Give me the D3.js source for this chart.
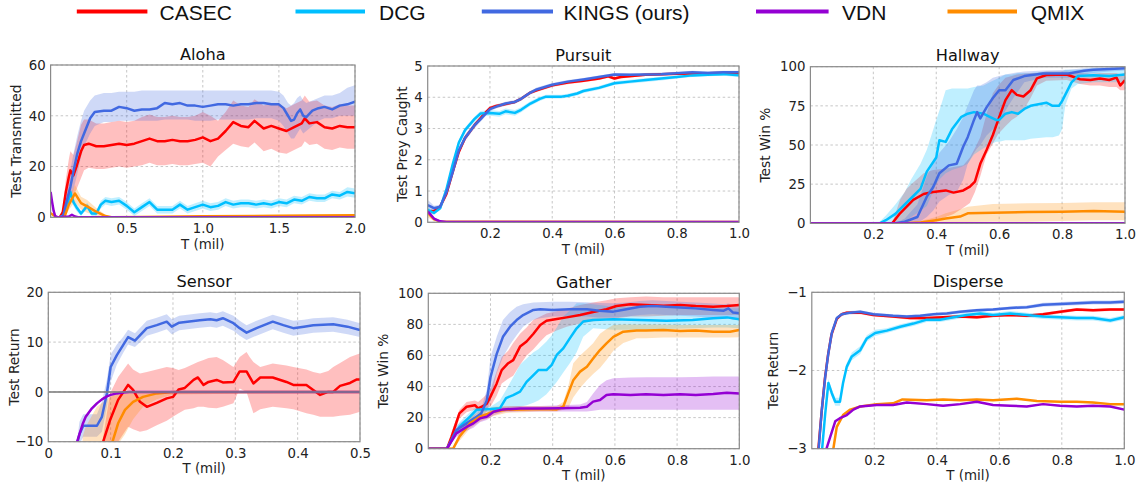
<!DOCTYPE html>
<html>
<head>
<meta charset="utf-8">
<script src="https://cdn.jsdelivr.net/npm/d3@7"></script>
<style>
  body { margin: 0; background: #fff; }
  svg text { font-family: "DejaVu Sans", sans-serif; }
  .legend text { font-family: "Liberation Sans", Arial, sans-serif; }
</style>
</head>
<body>
<svg id="fig" width="1141" height="486"></svg>
<script>
// ---- data: each point is [x, mean, spread] or [x, mean, lo, hi] ----
const methods = ['CASEC', 'DCG', 'KINGS (ours)', 'VDN', 'QMIX'];
const methodColors = ['#ff0000', '#00bfff', '#4169e1', '#9400d3', '#ff8c00'];

const alohaCasec = [[0.06,0,0],[0.08,2,1.5],[0.1,10,5],[0.12,16,7],[0.13,18.5,7.5],[0.15,16.5,8],[0.17,20,9],[0.2,26,10.5],[0.22,28.5,10],[0.25,29,9.5],[0.3,28,9],[0.35,28,9],[0.4,28.5,9],[0.45,29,9],[0.5,28.5,9],[0.55,29,9],[0.6,30,9.5],[0.65,31,9.5],[0.7,30,9.5],[0.75,30,9.5],[0.8,30.5,9.5],[0.85,30,9.5],[0.9,30,9.5],[0.95,30.5,9.5],[1.0,31.5,10],[1.05,30,10],[1.1,31,7],[1.15,34,7.5],[1.2,37.5,8.5],[1.25,36,8],[1.3,35.5,8],[1.34,38,8.5],[1.4,35,9],[1.45,36,9],[1.5,35,9.5],[1.55,34,9],[1.6,35.5,9],[1.65,37,9],[1.67,39,9],[1.7,37,8.5],[1.75,37.5,8.5],[1.8,35.5,8.5],[1.85,35,8.5],[1.9,36,8.5],[1.95,35.5,8.5],[2.0,35.5,8.5]];
const alohaDcg = [[0.06,0,0],[0.09,1,0.5],[0.11,5,1.5],[0.13,10,2],[0.15,6,1.5],[0.17,4,1.5],[0.2,1.5,1],[0.22,3,1],[0.24,4.5,1.2],[0.27,1.5,1],[0.3,1.5,1],[0.33,5,1.5],[0.36,6.5,1.5],[0.4,6,1.5],[0.45,6.5,1.5],[0.5,4.5,1.5],[0.55,2,1.5],[0.6,4,1.5],[0.65,6,1.5],[0.7,3,1.5],[0.75,3,1.5],[0.8,3,1.5],[0.85,5,1.5],[0.9,3,1.5],[0.95,4,1.5],[1.0,5,1.5],[1.05,4,1.5],[1.1,4.5,1.5],[1.15,6,1.5],[1.2,5,1.5],[1.25,5.5,1.5],[1.3,5.5,1.5],[1.35,5,1.5],[1.4,5.5,1.5],[1.45,5,1.5],[1.5,6,1.5],[1.55,5.5,1.5],[1.6,7,1.5],[1.65,6.5,1.5],[1.7,8,1.5],[1.75,7.5,1.5],[1.8,7.5,1.5],[1.85,9,1.5],[1.9,8.5,1.5],[1.95,10,1.8],[2.0,9.5,1.8]];
const alohaKings = [[0.08,0,0,0],[0.1,5,2,8],[0.13,12,7,18.5],[0.15,18,11,25],[0.175,25,17,32],[0.2,30,24,38],[0.22,33,28,42],[0.26,39,33,46],[0.29,41.5,36,48],[0.35,42,37.5,49],[0.4,42,37.5,49],[0.45,43.5,38,49.5],[0.5,43,38,49.5],[0.55,42,38,49.5],[0.6,42.5,38,50],[0.65,42.5,38,50],[0.7,43,38,50],[0.75,45,38.5,50],[0.8,44.5,38.5,50],[0.85,45,38.5,50],[0.9,44,38.5,50],[0.95,44,38,50],[1.0,43.5,38,50],[1.05,44,38,50],[1.1,44.5,38.5,50],[1.15,44.5,38.5,50],[1.2,44,38.5,50],[1.25,44.5,38.5,50],[1.3,44.5,38.5,50],[1.35,45,39,50],[1.4,45,39,50],[1.45,44.5,39,50],[1.5,44.5,38,49.5],[1.53,43,36,48],[1.56,40,33,45],[1.58,38,31,44],[1.6,38.5,31,45],[1.62,41,33,47],[1.64,42.5,35,48],[1.66,40,33,46],[1.68,39.5,34,45],[1.72,42,36,46],[1.76,43,38,47],[1.8,43.5,39,48],[1.85,42.5,39,48],[1.9,44,40,49],[1.95,44.5,40,51],[2.0,45.5,40,52]];
const alohaVdn = [[0,10,0.5],[0.01,6,0.5],[0.02,2.5,0.3],[0.03,0.5,0.2],[0.05,0,0],[0.12,0.3,0],[0.14,1,0.2],[0.16,0.3,0],[0.18,0,0],[2.0,0,0]];
const alohaQmix = [[0,1.6,0.5],[0.02,0.8,0.5],[0.04,0,0.2],[0.09,0,0.3],[0.12,5,2],[0.16,9.4,3.3],[0.2,5.6,2.5],[0.24,4.3,2.5],[0.3,2.2,1.5],[0.36,0.5,0.5],[0.4,0,0.2],[0.6,0.1,0.1],[1.0,0.4,0.2],[1.5,0.6,0.3],[2.0,0.8,0.3]];

const pursuitCasec = [[0.01,0.35,0.08],[0.02,0.35,0.06],[0.04,0.5,0.05],[0.06,0.9,0.06],[0.08,1.6,0.08],[0.1,2.25,0.08],[0.12,2.7,0.08],[0.15,3.1,0.07],[0.18,3.45,0.06],[0.2,3.65,0.06],[0.22,3.72,0.06],[0.25,3.78,0.05],[0.28,3.85,0.05],[0.3,3.95,0.05],[0.33,4.15,0.05],[0.35,4.22,0.05],[0.4,4.38,0.05],[0.45,4.47,0.05],[0.5,4.53,0.05],[0.55,4.6,0.05],[0.58,4.67,0.05],[0.6,4.6,0.05],[0.62,4.65,0.05],[0.7,4.72,0.04],[0.8,4.75,0.04],[0.9,4.77,0.04],[0.95,4.78,0.04],[1.0,4.75,0.04]];
const pursuitDcg = [[0,0.4,0.1],[0.02,0.3,0.06],[0.04,0.45,0.06],[0.06,1.05,0.08],[0.08,1.85,0.08],[0.1,2.55,0.08],[0.12,2.95,0.08],[0.15,3.3,0.08],[0.17,3.48,0.08],[0.2,3.5,0.09],[0.23,3.47,0.09],[0.25,3.55,0.09],[0.28,3.5,0.09],[0.3,3.6,0.08],[0.33,3.8,0.07],[0.36,3.95,0.07],[0.38,4.02,0.06],[0.4,4.02,0.06],[0.43,4.02,0.06],[0.45,4.05,0.06],[0.48,4.12,0.06],[0.5,4.2,0.06],[0.55,4.3,0.06],[0.6,4.45,0.06],[0.65,4.5,0.06],[0.7,4.55,0.06],[0.75,4.6,0.06],[0.8,4.65,0.05],[0.85,4.7,0.05],[0.9,4.72,0.05],[0.95,4.74,0.05],[1.0,4.7,0.05]];
const pursuitKings = [[0,0.55,0.17],[0.02,0.45,0.08],[0.04,0.5,0.06],[0.06,0.95,0.08],[0.08,1.6,0.1],[0.1,2.3,0.1],[0.12,2.7,0.1],[0.15,3.1,0.1],[0.17,3.3,0.08],[0.2,3.62,0.07],[0.22,3.7,0.06],[0.25,3.8,0.06],[0.28,3.85,0.06],[0.3,3.95,0.06],[0.33,4.15,0.06],[0.35,4.25,0.06],[0.4,4.4,0.06],[0.45,4.5,0.05],[0.5,4.57,0.05],[0.55,4.65,0.05],[0.6,4.73,0.05],[0.65,4.72,0.05],[0.7,4.73,0.05],[0.75,4.74,0.05],[0.8,4.77,0.05],[0.85,4.8,0.05],[0.9,4.78,0.05],[0.95,4.8,0.05],[1.0,4.8,0.05]];
const pursuitVdn = [[0,0.35,0.05],[0.02,0.12,0.03],[0.04,0.03,0.01],[0.06,0.01,0],[1.0,0.01,0]];
const pursuitQmix = [[0,0.3,0.15],[0.02,0.1,0.06],[0.04,0.02,0.01],[1.0,0.01,0]];

const hallwayCasec = [[0,0,0,0],[0.26,0,0,0],[0.285,6.4,0,15],[0.306,10.6,0,22],[0.327,15,0,26],[0.36,18.7,0.5,32],[0.39,20,1,34],[0.43,21,4,35],[0.455,19.6,6,36],[0.486,21,10,37],[0.507,23.4,13,42],[0.523,26.6,20,48],[0.54,38,30,55],[0.56,46.8,44,70],[0.58,56.4,51,83],[0.597,66,57,88],[0.62,78.7,62,93],[0.64,85,66,94],[0.656,82,68,95],[0.677,81,72,95.5],[0.7,85,80,96],[0.72,92.5,88,96],[0.75,94.7,91,97],[0.815,95,91.5,97],[0.857,92,89,96],[0.89,91.5,88,95.5],[0.92,92.5,88,96],[0.95,91.5,87,96],[0.973,93,87,96],[0.985,88,85,95],[1.0,91.5,85,96]];
const hallwayDcg = [[0,0,0,0],[0.22,0,0,1],[0.24,2,0,5],[0.27,6,0,12],[0.3,12,1,20],[0.32,16,4,28],[0.35,22,8,38],[0.37,33,11,47],[0.4,42,25,66],[0.41,53,28,72],[0.43,52,32,85],[0.45,60,34,86],[0.48,68,36,86],[0.5,70,38,86],[0.52,71,44,87],[0.55,70,48,88],[0.57,68,50,90],[0.59,66,52,92],[0.6,66,52,93],[0.62,70,53,95],[0.64,71,53,95],[0.66,70,53,96],[0.68,73,53,96],[0.7,75,54,96],[0.75,77,55,97],[0.77,75,55,97],[0.79,75,56,97],[0.8,78,60,97],[0.81,82,75,98],[0.83,90,86,98],[0.85,94,89,98],[0.9,94.5,90,99],[0.95,94,90,99],[1.0,95,90,99]];
const hallwayKings = [[0,0,0,0],[0.27,0,0,0],[0.3,1,0,3],[0.34,4,0,12],[0.37,17,4,30],[0.39,23,8,38],[0.41,32,14,45],[0.44,37,18,52],[0.465,38,20,60],[0.486,49,28,68],[0.5,55,38,75],[0.52,66,45,85],[0.53,71,48,88],[0.54,67,50,88],[0.56,74,56,90],[0.58,80,60,93],[0.6,85,64,94],[0.62,85,72,95],[0.645,91.5,80,96],[0.68,94,90,97],[0.74,95.7,93,97.5],[0.82,95.7,93,98],[0.87,97.4,95,99],[0.9,98,96,99.5],[0.95,98.5,97,100],[1.0,99,97.5,100]];
const hallwayVdn = [[0,0,0],[1.0,0,0]];
const hallwayQmix = [[0,0,0,0],[0.3,0,0,0],[0.35,0.5,0,1.5],[0.4,2,0,4],[0.43,3,0,6.4],[0.476,4.3,0.5,9],[0.5,6.4,0.8,10.6],[0.58,6.8,1,12.3],[0.69,7.2,1,12.8],[0.8,7.4,1.5,13],[0.9,7.9,2,13.4],[1.0,7.4,2,13.4]];

const sensorCasec = [[0.088,-10,-11,-9],[0.099,-5.7,-10.5,-0.3],[0.112,-1.6,-10,3],[0.128,1.4,-7,5.7],[0.136,0.4,-7.5,4.5],[0.147,-2,-8,3.7],[0.158,-3,-7.7,4],[0.174,-2.2,-6.7,4.5],[0.19,-1.3,-5.8,5],[0.2,-1,-5,4.8],[0.209,0.5,-4.3,4.4],[0.219,0.8,-3.6,4.8],[0.233,2.4,-3.3,5.6],[0.24,2.9,-3,6],[0.249,1.4,-3,6.4],[0.257,2,-3.2,6.8],[0.27,2.4,-3.3,7],[0.28,1.9,-3,6.4],[0.297,2,-2.3,5],[0.307,4.1,0.7,7],[0.318,4.1,0,8],[0.323,3,-2,7],[0.329,1.7,-4.3,6],[0.34,2.9,-3.5,5],[0.36,2.9,-3,5.7],[0.382,2,-3.3,5.3],[0.393,1.4,-3.5,5],[0.414,1.4,-4.3,4.5],[0.425,0.4,-4.6,4],[0.436,-0.6,-5,3.7],[0.449,0,-5,4.2],[0.457,0,-5,5],[0.468,1.2,-4.8,5.8],[0.484,1.8,-4.6,7],[0.495,2.5,-4.2,7.5],[0.5,2.5,-4,7.7]];
const sensorKings = [[0.046,-10.5,-11,-10],[0.05,-8.5,-10.5,-6],[0.056,-6.8,-9,-4.5],[0.078,-6.8,-9,-4.5],[0.086,-5,-8,-2],[0.094,-0.3,-3,2.5],[0.1,5,2,7.5],[0.11,7.4,5.5,9.5],[0.12,9.4,7.8,11],[0.128,11,9.5,12.5],[0.139,10.3,9,11.8],[0.158,12.8,11.3,14.3],[0.174,13.4,11.9,14.9],[0.19,14.1,12.6,15.6],[0.198,13.1,11.6,14.6],[0.21,13.9,12.4,15.3],[0.243,14.4,12.9,15.8],[0.26,14.6,13.1,16],[0.27,14.4,12.9,15.8],[0.28,14.8,13.3,16.2],[0.297,13.8,12.3,15.3],[0.307,12.8,11.3,14.3],[0.318,11.9,10.4,13.4],[0.334,12.8,11.3,14.3],[0.36,14.1,12.6,15.5],[0.377,13.4,11.9,14.9],[0.393,12.8,11.3,14.3],[0.41,13.1,11.6,14.5],[0.425,13.4,11.9,14.8],[0.457,13.6,12.1,15],[0.48,13.1,11.6,14.5],[0.5,12.4,11,13.8]];
const sensorVdn = [[0.045,-10.5,0.3],[0.05,-8.5,0.3],[0.055,-6.5,0.3],[0.06,-5,0.3],[0.07,-3.3,0.2],[0.078,-2.3,0.2],[0.086,-1.5,0.1],[0.094,-0.9,0.1],[0.1,-0.6,0.1],[0.11,-0.3,0],[0.12,-0.1,0],[0.13,0,0],[0.5,0,0]];
const sensorQmix = [[0.055,-12,-12,-9],[0.06,-12,-12,-7],[0.078,-12,-12,-3],[0.099,-11,-12,-1],[0.103,-10,-11.5,-0.8],[0.112,-6.3,-10.5,-0.5],[0.123,-3.6,-8.5,-0.3],[0.136,-2,-5.5,-0.1],[0.152,-1,-3,0],[0.174,-0.3,-1.5,0],[0.2,0,-0.5,0.1],[0.5,0,-0.1,0.1]];

const gatherCasec = [[0,0,0,0],[0.06,0,0,1],[0.075,7.7,4,11],[0.1,22.7,19.5,25],[0.123,27,23.5,30],[0.15,28,25,31],[0.16,26,24,30],[0.177,27.5,25,33],[0.188,29,26,35],[0.2,33.5,27,38],[0.22,42,34,50],[0.236,50.6,42,59],[0.257,55,45,63],[0.273,57,47,68],[0.295,65.7,54,74],[0.316,69,60,78],[0.338,74,64,83],[0.36,79.6,69,85],[0.38,82.4,73,87],[0.413,83.5,76,88.5],[0.445,84.5,78.5,90],[0.488,86,80.5,92.5],[0.53,88,82,94],[0.573,89.7,83,95.5],[0.605,91.8,84,96.8],[0.65,93,85,97.5],[0.7,92.5,85,98],[0.756,92,85.5,97.5],[0.81,92.5,86,97.5],[0.86,91.8,86,97.5],[0.916,91.4,86,97.4],[0.96,91.8,86,97.4],[1.0,92.5,86,97.4]];
const gatherDcg = [[0,0,0,0],[0.06,0,0,1],[0.1,14,11,17],[0.134,20.6,17.5,23.5],[0.155,25,22.5,27],[0.2,25.5,24,27],[0.23,26,24.5,31],[0.25,32.6,26,37.8],[0.273,34.5,26.5,46],[0.295,36.7,27,54],[0.316,43,28,58],[0.338,47.4,29.5,62],[0.354,50.6,31,64],[0.38,50.6,35,69],[0.397,54,39,73],[0.413,60.3,43,78],[0.434,64.6,49,85],[0.455,71,55,89],[0.477,77.5,62,93.6],[0.498,81.8,72,93.6],[0.53,82.8,77.5,93],[0.595,83.3,76.5,91.4],[0.68,82.8,76.5,91],[0.766,82.4,77,90.5],[0.85,82.8,77.5,90.3],[0.916,84,78,90.3],[0.96,84.5,78,90.3],[1.0,83.3,77.5,90.3]];
const gatherKings = [[0,0,0,0],[0.06,0,0,1],[0.09,12,9,15],[0.123,16.3,13,19.5],[0.155,20.6,17.5,24],[0.17,22.7,20,25.5],[0.188,31,24,38],[0.2,46,31,59],[0.22,61,48.5,72],[0.24,72,59,82.8],[0.263,78.5,67,88],[0.284,82.8,73,91.4],[0.305,86,78.5,93],[0.338,89.3,83,94],[0.36,89.7,84,94.2],[0.4,89.3,85,94.6],[0.455,89.7,85,94.5],[0.51,89.7,85,94.3],[0.55,88.8,84.5,93.8],[0.595,88.2,84.5,93.6],[0.637,89.7,85,94],[0.68,91.4,86,95],[0.72,91.8,86.5,95.5],[0.765,91.4,86,95],[0.81,90.8,85.5,94.5],[0.86,90.3,85,94],[0.916,89.3,84,93.5],[0.95,88.8,83.5,93],[0.965,90.3,84,93.5],[0.98,87.6,83,92.5],[1.0,87.1,82.8,92.5]];
const gatherVdn = [[0,0,0,0],[0.06,0,0,1],[0.09,9.9,7.5,12],[0.123,14,11.5,16.5],[0.145,16.3,13.5,19],[0.166,19.5,17,22],[0.188,20.6,18.5,23],[0.21,23.8,21.5,26],[0.24,25.3,23.5,27],[0.295,25.8,24,27.5],[0.36,25.8,24,27.5],[0.423,26,24,28],[0.488,26.4,24,28.5],[0.51,27,24,30],[0.53,30.3,24.5,35.6],[0.552,31.3,25,41],[0.573,34.5,25,44],[0.595,35,25,45.3],[0.65,34.5,25,45.8],[0.7,35,25,46],[0.756,34.5,25,46],[0.81,35,25,46],[0.86,34.5,25,46.2],[0.916,35.2,25,46.4],[0.96,36,25,46.4],[1.0,35.6,25,46.4]];
const gatherQmix = [[0,0,0,0],[0.08,0,0,1],[0.1,7.7,5,11],[0.134,16.3,13,20],[0.166,20.6,17.5,24],[0.21,23.8,21,27],[0.25,25,23,27.5],[0.305,25.3,23.5,27.5],[0.36,25.5,24,27.5],[0.413,25.3,24,27.5],[0.434,27,25,30],[0.45,35.6,26,40],[0.466,44,33,55],[0.488,49.6,39,60],[0.51,52.8,44,64],[0.53,58,48,67.8],[0.552,63.5,52,74],[0.573,67.8,57,77],[0.595,72,63,79.6],[0.627,75.3,68,80],[0.67,76,71,80],[0.7,76,71,80],[0.756,76.4,71.5,80],[0.81,75.8,71.5,79.6],[0.86,76,71.5,79.6],[0.916,75.3,71.5,79.6],[0.97,75.3,71.5,79.6],[1.0,76.4,71.7,79.6]];

const disperseCasec = [[0.02,-3.05,0.02],[0.031,-2.55,0.03],[0.042,-2.1,0.03],[0.052,-1.8,0.03],[0.063,-1.54,0.03],[0.08,-1.34,0.02],[0.096,-1.28,0.02],[0.112,-1.26,0.02],[0.155,-1.26,0.02],[0.197,-1.29,0.02],[0.26,-1.31,0.02],[0.315,-1.33,0.02],[0.368,-1.33,0.02],[0.42,-1.32,0.02],[0.475,-1.31,0.02],[0.528,-1.32,0.02],[0.58,-1.3,0.02],[0.635,-1.29,0.02],[0.688,-1.3,0.02],[0.74,-1.28,0.02],[0.795,-1.25,0.02],[0.848,-1.22,0.02],[0.9,-1.23,0.02],[0.955,-1.22,0.02],[1.0,-1.22,0.02]];
const disperseDcg = [[0.032,-3.05,0.03],[0.043,-2.55,0.05],[0.053,-2.16,0.05],[0.064,-2.29,0.05],[0.075,-2.4,0.05],[0.09,-2.4,0.05],[0.1,-2.16,0.05],[0.112,-1.95,0.05],[0.128,-1.82,0.05],[0.155,-1.74,0.05],[0.176,-1.59,0.04],[0.203,-1.52,0.04],[0.24,-1.49,0.03],[0.283,-1.44,0.03],[0.325,-1.4,0.03],[0.368,-1.35,0.03],[0.41,-1.35,0.03],[0.453,-1.32,0.03],[0.496,-1.29,0.03],[0.539,-1.27,0.03],[0.58,-1.29,0.03],[0.635,-1.27,0.03],[0.688,-1.29,0.03],[0.74,-1.31,0.03],[0.795,-1.32,0.03],[0.848,-1.33,0.03],[0.9,-1.33,0.03],[0.955,-1.36,0.03],[1.0,-1.32,0.03]];
const disperseKings = [[0.021,-3.05,0.02],[0.032,-2.5,0.03],[0.043,-2.08,0.03],[0.053,-1.78,0.03],[0.064,-1.52,0.03],[0.08,-1.33,0.02],[0.096,-1.28,0.02],[0.123,-1.26,0.02],[0.155,-1.25,0.02],[0.197,-1.28,0.02],[0.26,-1.3,0.02],[0.304,-1.31,0.02],[0.347,-1.3,0.02],[0.39,-1.28,0.02],[0.432,-1.27,0.02],[0.475,-1.25,0.02],[0.528,-1.23,0.02],[0.58,-1.22,0.02],[0.635,-1.2,0.02],[0.688,-1.19,0.02],[0.74,-1.16,0.025],[0.795,-1.15,0.025],[0.848,-1.14,0.025],[0.9,-1.13,0.025],[0.955,-1.13,0.025],[1.0,-1.12,0.025]];
const disperseVdn = [[0.043,-3.05,0.01],[0.059,-2.85,0.01],[0.075,-2.65,0.01],[0.09,-2.61,0.01],[0.112,-2.57,0.01],[0.133,-2.5,0.01],[0.155,-2.46,0.01],[0.208,-2.44,0.01],[0.26,-2.44,0.01],[0.304,-2.41,0.01],[0.368,-2.43,0.01],[0.42,-2.45,0.01],[0.475,-2.43,0.01],[0.528,-2.4,0.01],[0.58,-2.44,0.01],[0.635,-2.45,0.01],[0.688,-2.46,0.01],[0.74,-2.43,0.01],[0.795,-2.45,0.01],[0.848,-2.46,0.01],[0.9,-2.45,0.01],[0.955,-2.46,0.01],[1.0,-2.5,0.01]];
const disperseQmix = [[0.067,-3.05,0.01],[0.08,-2.72,0.01],[0.1,-2.57,0.01],[0.123,-2.5,0.01],[0.155,-2.46,0.01],[0.208,-2.43,0.01],[0.26,-2.42,0.01],[0.29,-2.37,0.01],[0.368,-2.38,0.01],[0.42,-2.37,0.01],[0.475,-2.38,0.01],[0.528,-2.37,0.01],[0.58,-2.38,0.01],[0.656,-2.36,0.01],[0.72,-2.39,0.01],[0.795,-2.4,0.01],[0.848,-2.4,0.01],[0.9,-2.41,0.01],[0.955,-2.43,0.01],[1.0,-2.43,0.01]];

const tenthTicks = [0.2, 0.4, 0.6, 0.8, 1.0];

class CurvePanel {

  /**
   * One subplot: shaded band + mean line per method
   */
  constructor(_config, _series) {
    this.config = _config;
    this.series = _series;
    this.initVis();
  }

  initVis() {
    let vis = this;
    const c = vis.config;
    vis.width = c.right - c.left;
    vis.height = c.bottom - c.top;

    vis.xScale = d3.scaleLinear().domain(c.xDomain).range([0, vis.width]);
    vis.yScale = d3.scaleLinear().domain(c.yDomain).range([vis.height, 0]);

    vis.chart = d3.select('#fig').append('g')
        .attr('transform', `translate(${c.left},${c.top})`);

    vis.chart.append('clipPath').attr('id', 'clip-' + c.id)
      .append('rect').attr('width', vis.width).attr('height', vis.height);

    // dashed grid
    const grid = vis.chart.append('g').attr('class', 'grid');
    grid.selectAll('.gx').data(c.xTicks).join('line')
        .attr('x1', d => vis.xScale(d)).attr('x2', d => vis.xScale(d))
        .attr('y1', 0).attr('y2', vis.height);
    grid.selectAll('.gy').data(c.yTicks).join('line')
        .attr('y1', d => vis.yScale(d)).attr('y2', d => vis.yScale(d))
        .attr('x1', 0).attr('x2', vis.width);
    grid.selectAll('line')
        .attr('stroke', '#c0c0c0').attr('stroke-width', 0.9)
        .attr('stroke-dasharray', '2.5,2.5');

    vis.marks = vis.chart.append('g').attr('clip-path', `url(#clip-${c.id})`);

    vis.xAxis = d3.axisBottom(vis.xScale).tickValues(c.xTicks)
        .tickSize(0).tickPadding(6.5).tickFormat(c.xFormat);
    vis.yAxis = d3.axisLeft(vis.yScale).tickValues(c.yTicks)
        .tickSize(0).tickPadding(5).tickFormat(d3.format('d'));
  }

  renderVis() {
    let vis = this;
    const c = vis.config;

    const rows = vis.series.map(s => ({
      color: s.color,
      pts: s.data.map(p => p.length === 4
        ? {x: p[0], y: p[1], lo: p[2], hi: p[3]}
        : {x: p[0], y: p[1], lo: p[1] - (p[2] || 0), hi: p[1] + (p[2] || 0)})
    }));

    const area = d3.area()
        .x(d => vis.xScale(d.x))
        .y0(d => vis.yScale(d.lo))
        .y1(d => vis.yScale(d.hi));
    const line = d3.line()
        .x(d => vis.xScale(d.x))
        .y(d => vis.yScale(d.y));

    vis.marks.selectAll('.band').data(rows).join('path')
        .attr('class', 'band')
        .attr('d', d => area(d.pts))
        .attr('fill', d => d.color)
        .attr('fill-opacity', 0.25);

    vis.marks.selectAll('.curve').data(rows).join('path')
        .attr('class', 'curve')
        .attr('d', d => line(d.pts))
        .attr('fill', 'none')
        .attr('stroke', d => d.color)
        .attr('stroke-width', 2.5)
        .attr('stroke-linejoin', 'round');

    if (c.hline !== undefined) {
      vis.marks.append('line')
          .attr('x1', 0).attr('x2', vis.width)
          .attr('y1', vis.yScale(c.hline)).attr('y2', vis.yScale(c.hline))
          .attr('stroke', '#808080').attr('stroke-width', 2).attr('stroke-opacity', 0.8);
    }

    // frame
    vis.chart.append('rect')
        .attr('width', vis.width).attr('height', vis.height)
        .attr('fill', 'none').attr('stroke', '#8a8a8a').attr('stroke-width', 1.2);

    const xg = vis.chart.append('g').attr('transform', `translate(0,${vis.height})`).call(vis.xAxis);
    const yg = vis.chart.append('g').call(vis.yAxis);
    [xg, yg].forEach(g => {
      g.select('.domain').remove();
      g.selectAll('text').attr('font-size', 13.3).attr('fill', '#222')
        .attr('font-family', '"DejaVu Sans", sans-serif');
    });

    vis.chart.append('text')
        .attr('x', vis.width / 2).attr('y', -5.5)
        .attr('text-anchor', 'middle').attr('font-size', 16.2).attr('fill', '#111')
        .text(c.title);
    vis.chart.append('text')
        .attr('x', vis.width / 2).attr('y', vis.height + 31.6)
        .attr('text-anchor', 'middle').attr('font-size', 13.4).attr('fill', '#222')
        .text('T (mil)');
    vis.chart.append('text')
        .attr('transform', `translate(${-c.yLabelOffset + 4.9},${vis.height / 2}) rotate(-90)`)
        .attr('text-anchor', 'middle').attr('font-size', 13.8).attr('fill', '#222')
        .text(c.yLabel);
  }
}

const fmt1 = d3.format('.1f');
const panelDefs = [
  {id: 'aloha', title: 'Aloha', yLabel: 'Test Transmitted', left: 50.6, right: 355, top: 65, bottom: 217.3,
   xDomain: [0, 2], yDomain: [0, 60], xTicks: [0.5, 1.0, 1.5, 2.0], yTicks: [0, 20, 40, 60], xFormat: fmt1, yLabelOffset: 34,
   data: [alohaCasec, alohaDcg, alohaKings, alohaQmix, alohaVdn]},
  {id: 'pursuit', title: 'Pursuit', yLabel: 'Test Prey Caught', left: 427.7, right: 739, top: 66, bottom: 222.3,
   xDomain: [0, 1], yDomain: [0, 5], xTicks: tenthTicks, yTicks: [0, 1, 2, 3, 4, 5], xFormat: fmt1, yLabelOffset: 26,
   data: [pursuitCasec, pursuitDcg, pursuitKings, pursuitQmix, pursuitVdn]},
  {id: 'hallway', title: 'Hallway', yLabel: 'Test Win %', left: 810.4, right: 1125, top: 66.7, bottom: 223.3,
   xDomain: [0, 1], yDomain: [0, 100], xTicks: tenthTicks, yTicks: [0, 25, 50, 75, 100], xFormat: fmt1, yLabelOffset: 45,
   data: [hallwayCasec, hallwayDcg, hallwayKings, hallwayQmix, hallwayVdn]},
  {id: 'sensor', title: 'Sensor', yLabel: 'Test Return', left: 48.3, right: 360, top: 292.3, bottom: 441.7,
   xDomain: [0, 0.5], yDomain: [-10, 20], xTicks: [0, 0.1, 0.2, 0.3, 0.4, 0.5], yTicks: [-10, 0, 10, 20],
   xFormat: d => d === 0 ? '0' : fmt1(d), yLabelOffset: 34, hline: 0,
   data: [sensorCasec, null, sensorKings, sensorQmix, sensorVdn]},
  {id: 'gather', title: 'Gather', yLabel: 'Test Win %', left: 428.3, right: 739.3, top: 293.3, bottom: 448.7,
   xDomain: [0, 1], yDomain: [0, 100], xTicks: tenthTicks, yTicks: [0, 20, 40, 60, 80, 100], xFormat: fmt1, yLabelOffset: 45,
   data: [gatherCasec, gatherDcg, gatherKings, gatherQmix, gatherVdn]},
  {id: 'disperse', title: 'Disperse', yLabel: 'Test Return', left: 811.8, right: 1124.3, top: 292.3, bottom: 448.7,
   xDomain: [0, 1], yDomain: [-3, -1], xTicks: tenthTicks, yTicks: [-3, -2, -1], xFormat: fmt1, yLabelOffset: 38.8,
   data: [disperseCasec, disperseDcg, disperseKings, disperseQmix, disperseVdn]}
];

// draw order: CASEC, DCG, KINGS, QMIX, VDN
const drawOrder = [0, 1, 2, 4, 3];
panelDefs.forEach(p => {
  const series = [];
  p.data.forEach((d, i) => {
    if (!d) return;
    const m = drawOrder[i];
    series.push({name: methods[m], color: methodColors[m], data: d});
  });
  const panel = new CurvePanel(p, series);
  panel.renderVis();
});

// legend
const legendX = [{x1: 76.8, x2: 147.4, tx: 159.5}, {x1: 295.5, x2: 365, tx: 379}, {x1: 481.8, x2: 553, tx: 563.6},
                 {x1: 756, x2: 828.6, tx: 842}, {x1: 947.5, x2: 1017, tx: 1030.7}];
const legend = d3.select('#fig').append('g').attr('class', 'legend');
legend.selectAll('line').data(methods).join('line')
    .attr('x1', (d, i) => legendX[i].x1).attr('x2', (d, i) => legendX[i].x2)
    .attr('y1', 11.5).attr('y2', 11.5)
    .attr('stroke', (d, i) => methodColors[i]).attr('stroke-width', 4.2);
legend.selectAll('text').data(methods).join('text')
    .attr('x', (d, i) => legendX[i].tx).attr('y', 19.5)
    .attr('font-size', 21).attr('fill', '#111')
    .text(d => d);
</script>
</body>
</html>
